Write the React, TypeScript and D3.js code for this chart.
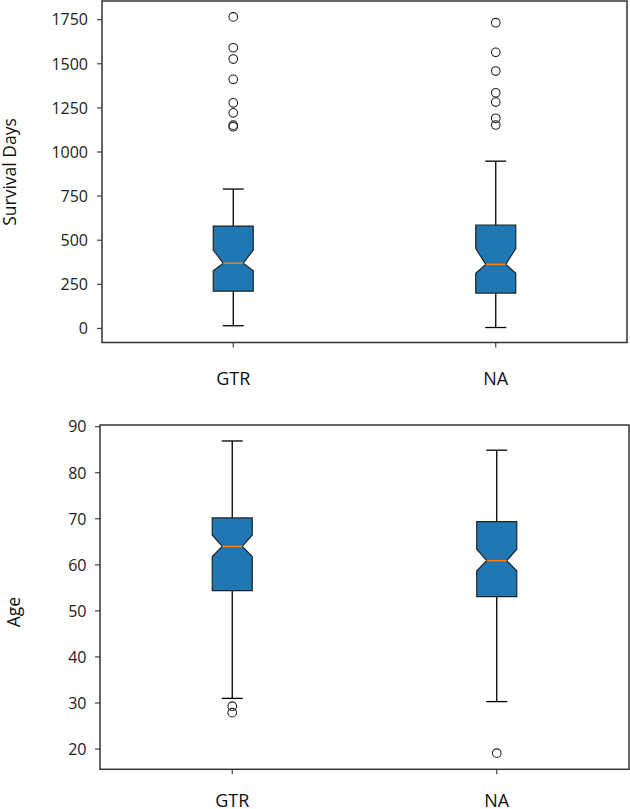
import React from "react";
import * as d3 from "d3";

const categories = ["GTR", "NA"];

// Survival days per group
const survivalWhiskerLo = [15, 5];
const survivalQ1 = [211, 200];
const survivalNotchLo = [327, 312];
const survivalMedian = [370, 363];
const survivalNotchHi = [444, 453];
const survivalQ3 = [580, 586];
const survivalWhiskerHi = [790, 948];
const survivalOutliers = [
  [1766, 1591, 1527, 1412, 1279, 1222, 1152, 1143],
  [1733, 1565, 1459, 1336, 1283, 1191, 1153],
];
const survivalTicks = [0, 250, 500, 750, 1000, 1250, 1500, 1750];

// Age per group
const ageWhiskerLo = [31.0, 30.3];
const ageQ1 = [54.4, 53.1];
const ageNotchLo = [61.8, 58.7];
const ageMedian = [64.0, 60.9];
const ageNotchHi = [66.5, 63.4];
const ageQ3 = [70.2, 69.4];
const ageWhiskerHi = [86.9, 84.9];
const ageOutliers = [[29.3, 27.9], [19.1]];
const ageTicks = [20, 30, 40, 50, 60, 70, 80, 90];

const FONT = "'Open Sans', 'Noto Sans', sans-serif";

type PanelProps = {
  lo: number[]; q1: number[]; nlo: number[]; med: number[]; nhi: number[]; q3: number[]; hi: number[];
  outliers: number[][];
  ticks: number[];
  domain: [number, number];
  left: number; right: number; top: number; bottom: number;
  label: string; labelX: number; labelY: number;
  xLabelBaseline: number;
  tickGap: number;
};

function Panel(p: PanelProps) {
  const y = d3.scaleLinear().domain(p.domain).range([p.bottom, p.top]);
  const x = d3.scalePoint<string>().domain(categories).range([p.left, p.right]).padding(0.5);
  const hw = 20;
  const nw = 10;
  const capW = 10.5;
  const line = d3.line<[number, number]>();
  return (
    <g>
      {categories.map((c, i) => {
        const cx = x(c) as number;
        const pts: [number, number][] = [
          [cx - hw, y(p.q1[i])],
          [cx - hw, y(p.nlo[i])],
          [cx - nw, y(p.med[i])],
          [cx - hw, y(p.nhi[i])],
          [cx - hw, y(p.q3[i])],
          [cx + hw, y(p.q3[i])],
          [cx + hw, y(p.nhi[i])],
          [cx + nw, y(p.med[i])],
          [cx + hw, y(p.nlo[i])],
          [cx + hw, y(p.q1[i])],
        ];
        return (
          <g key={c}>
            <line x1={cx} x2={cx} y1={y(p.q3[i])} y2={y(p.hi[i])} stroke="#000" strokeWidth={1.3} />
            <line x1={cx} x2={cx} y1={y(p.q1[i])} y2={y(p.lo[i])} stroke="#000" strokeWidth={1.3} />
            <line x1={cx - capW} x2={cx + capW} y1={y(p.hi[i])} y2={y(p.hi[i])} stroke="#000" strokeWidth={1.3} />
            <line x1={cx - capW} x2={cx + capW} y1={y(p.lo[i])} y2={y(p.lo[i])} stroke="#000" strokeWidth={1.3} />
            <path d={line(pts) + "Z"} fill="#1f77b4" stroke="#222" strokeWidth={1.2} />
            <line x1={cx - nw} x2={cx + nw} y1={y(p.med[i])} y2={y(p.med[i])} stroke="#ff7f0e" strokeWidth={1.5} />
            {p.outliers[i].map((v, j) => (
              <circle key={j} cx={cx} cy={y(v)} r={4.3} fill="none" stroke="#222" strokeWidth={1.1} />
            ))}
            <line x1={cx} x2={cx} y1={p.bottom} y2={p.bottom + 5} stroke="#333" strokeWidth={1.1} />
            <text x={cx} y={p.xLabelBaseline} textAnchor="middle" fontFamily={FONT} fontSize={18} fill="#111">
              {c}
            </text>
          </g>
        );
      })}
      {p.ticks.map((t) => (
        <g key={t}>
          <line x1={p.left - 5} x2={p.left} y1={y(t)} y2={y(t)} stroke="#333" strokeWidth={1.1} />
          <text x={p.left - p.tickGap} y={y(t)} dy="0.36em" textAnchor="end" fontFamily={FONT} fontSize={16} fill="#222">
            {t}
          </text>
        </g>
      ))}
      <rect x={p.left} y={p.top} width={p.right - p.left} height={p.bottom - p.top} fill="none" stroke="#333" strokeWidth={1.5} />
      <text
        transform={`translate(${p.labelX},${p.labelY}) rotate(-90)`}
        textAnchor="middle"
        fontFamily={FONT}
        fontSize={17.5}
        fill="#111"
      >
        {p.label}
      </text>
    </g>
  );
}

export default function App() {
  return (
    <svg
      width={630}
      height={809}
      style={{ position: "absolute", left: 0, top: 0, display: "block", background: "#fff" }}
    >
      <rect x={0} y={0} width={630} height={809} fill="#fff" />
      <Panel
        lo={survivalWhiskerLo} q1={survivalQ1} nlo={survivalNotchLo} med={survivalMedian}
        nhi={survivalNotchHi} q3={survivalQ3} hi={survivalWhiskerHi}
        outliers={survivalOutliers} ticks={survivalTicks}
        domain={[-80, 1856]}
        left={102} right={627} top={1} bottom={342.5}
        label="Survival Days" labelX={15.5} labelY={172}
        xLabelBaseline={385} tickGap={14}
      />
      <Panel
        lo={ageWhiskerLo} q1={ageQ1} nlo={ageNotchLo} med={ageMedian}
        nhi={ageNotchHi} q3={ageQ3} hi={ageWhiskerHi}
        outliers={ageOutliers} ticks={ageTicks}
        domain={[15.6, 90.37]}
        left={100} right={629} top={425} bottom={769.3}
        label="Age" labelX={19.5} labelY={612}
        xLabelBaseline={807} tickGap={13.5}
      />
    </svg>
  );
}
